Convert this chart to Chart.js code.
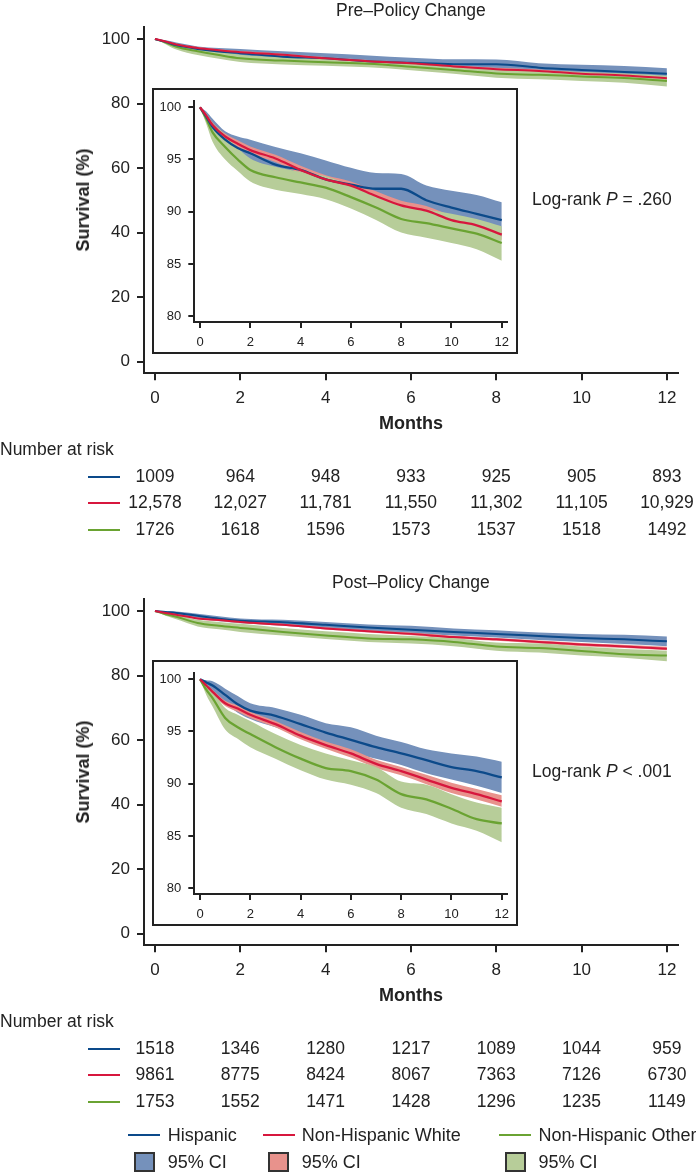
<!DOCTYPE html>
<html>
<head>
<meta charset="utf-8">
<script src="https://cdn.jsdelivr.net/npm/chart.js@4"></script>
<style>
body { margin: 0; background: #fff; }
#page { position: relative; width: 696px; height: 1173px; overflow: hidden; font-family: 'Liberation Sans', Arial, sans-serif; color: #222; }
#page canvas { position: absolute; }
.t { position: absolute; white-space: nowrap; font-size: 17.5px; line-height: 1; }
.seg { position: absolute; height: 2px; }
.sw { position: absolute; width: 17px; height: 16px; border: 2px solid #333; }
</style>
</head>
<body>
<div id="page"></div>
<script>
const months = [0, 0.25, 0.5, 1, 1.5, 2, 3, 4, 5, 6, 7, 8, 9, 10, 11, 12]
const xTicks = [0, 2, 4, 6, 8, 10, 12]
const yTicks = [0, 20, 40, 60, 80, 100]
const insetYTicks = [80, 85, 90, 95, 100]

const groups = ['Hispanic', 'Non-Hispanic White', 'Non-Hispanic Other']

// Pre-policy change
const preHisp   = [100, 99.1, 98.1, 96.9, 96.1, 95.6, 94.5, 94.0, 93.1, 92.6, 92.2, 92.2, 91.1, 90.4, 89.8, 89.2]
const preHispHi = [100, 99.6, 98.9, 97.7, 97.2, 96.9, 96.2, 95.6, 94.9, 94.2, 93.7, 93.6, 92.5, 92.0, 91.6, 90.9]
const preHispLo = [100, 98.6, 97.3, 96.0, 95.1, 94.4, 93.2, 92.6, 91.5, 91.0, 90.8, 90.6, 89.6, 88.9, 88.2, 87.6]
const preWhite   = [100, 99.2, 98.3, 97.2, 96.5, 95.9, 95.1, 94.0, 93.1, 92.5, 91.5, 90.6, 90.1, 89.2, 88.7, 87.8]
const preWhiteHi = [100, 99.35, 98.55, 97.5, 96.85, 96.25, 95.45, 94.4, 93.5, 92.9, 91.95, 91.05, 90.55, 89.65, 89.15, 88.3]
const preWhiteLo = [100, 99.05, 98.05, 96.9, 96.15, 95.55, 94.75, 93.6, 92.7, 92.1, 91.05, 90.15, 89.65, 88.75, 88.25, 87.3]
const preOther   = [100, 98.9, 97.6, 96.2, 95.0, 94.0, 93.3, 92.8, 92.3, 91.4, 90.4, 89.3, 88.9, 88.4, 87.9, 87.0]
const preOtherHi = [100, 99.4, 98.5, 97.4, 96.1, 95.1, 94.3, 93.8, 93.4, 92.5, 91.6, 90.6, 90.2, 89.8, 89.3, 88.6]
const preOtherLo = [100, 98.4, 96.7, 95.0, 93.9, 92.9, 92.1, 91.7, 91.2, 90.3, 89.2, 88.0, 87.5, 87.0, 86.4, 85.3]
const preRiskHisp  = ['1009', '964', '948', '933', '925', '905', '893']
const preRiskWhite = ['12,578', '12,027', '11,781', '11,550', '11,302', '11,105', '10,929']
const preRiskOther = ['1726', '1618', '1596', '1573', '1537', '1518', '1492']

// Post-policy change
const postHisp   = [100, 99.7, 99.4, 98.5, 97.6, 97.0, 96.5, 95.7, 94.9, 94.2, 93.5, 92.9, 92.25, 91.6, 91.2, 90.6]
const postHispHi = [100, 99.9, 99.8, 99.1, 98.4, 97.7, 97.25, 96.6, 95.8, 95.4, 94.6, 94.0, 93.3, 92.9, 92.6, 92.1]
const postHispLo = [100, 99.4, 98.9, 97.7, 96.8, 96.2, 95.4, 94.6, 93.8, 93.0, 92.4, 91.8, 91.0, 90.4, 89.8, 89.1]
const postWhite   = [100, 99.4, 98.8, 97.7, 97.2, 96.6, 95.7, 94.6, 93.7, 92.9, 91.9, 91.2, 90.4, 89.6, 89.0, 88.3]
const postWhiteHi = [100, 99.55, 99.0, 97.95, 97.5, 96.9, 96.0, 94.95, 94.05, 93.3, 92.3, 91.6, 90.85, 90.1, 89.5, 88.9]
const postWhiteLo = [100, 99.25, 98.6, 97.45, 96.9, 96.3, 95.4, 94.25, 93.35, 92.5, 91.5, 90.8, 89.95, 89.1, 88.5, 87.8]
const postOther   = [100, 99.0, 98.2, 96.3, 95.4, 94.75, 93.5, 92.4, 91.5, 91.2, 90.4, 89.0, 88.5, 87.6, 86.6, 86.2]
const postOtherHi = [100, 99.5, 98.9, 97.25, 96.6, 96.0, 94.75, 93.7, 92.9, 92.25, 91.6, 90.2, 89.9, 89.0, 88.2, 87.7]
const postOtherLo = [100, 98.5, 97.4, 95.2, 94.3, 93.5, 92.4, 91.3, 90.4, 89.9, 89.1, 87.7, 87.1, 86.2, 85.5, 84.4]
const postRiskHisp  = ['1518', '1346', '1280', '1217', '1089', '1044', '959']
const postRiskWhite = ['9861', '8775', '8424', '8067', '7363', '7126', '6730']
const postRiskOther = ['1753', '1552', '1471', '1428', '1296', '1235', '1149']

const BLUE = '#0c4a8a', BLUE_CI = '#7591bb'
const RED = '#d7173d', RED_CI = '#e8928c'
const GREEN = '#6aa332', GREEN_CI = '#b7cd99'
const INK = '#222'

Chart.defaults.font.family = "'Liberation Sans', Arial, sans-serif"
Chart.defaults.color = INK

const page = document.getElementById('page')

function addText(html, x, y, align, size, extra) {
    const d = document.createElement('div')
    d.className = 't'
    d.innerHTML = html
    d.style.left = x + 'px'
    d.style.top = y + 'px'
    if (size) d.style.fontSize = size + 'px'
    d.style.transform = align == 'center' ? 'translate(-50%,-50%)' : 'translate(0,-50%)'
    if (extra) Object.assign(d.style, extra)
    page.appendChild(d)
    return d
}

function addSeg(x, y, w, color) {
    const d = document.createElement('div')
    d.className = 'seg'
    d.style.left = x + 'px'
    d.style.top = (y - 1) + 'px'
    d.style.width = w + 'px'
    d.style.background = color
    page.appendChild(d)
}

function buildDatasets(s, lw) {
    const pts = arr => months.map((m, i) => ({ x: m, y: arr[i] }))
    const line = (arr, color) => ({ data: pts(arr), borderColor: color, borderWidth: lw, pointRadius: 0, fill: false, cubicInterpolationMode: 'monotone' })
    const edge = (arr, fill, bg) => ({ data: pts(arr), borderColor: 'transparent', borderWidth: 1, pointRadius: 0, fill: fill, backgroundColor: bg || 'transparent', cubicInterpolationMode: 'monotone' })
    // first dataset is drawn on top
    return [
        line(s.white, RED), line(s.hisp, BLUE), line(s.other, GREEN),
        edge(s.otherHi, '+1', GREEN_CI), edge(s.otherLo, false),
        edge(s.whiteHi, '+1', RED_CI), edge(s.whiteLo, false),
        edge(s.hispHi, '+1', BLUE_CI), edge(s.hispLo, false)
    ]
}

function axis(min, max, ticks, fit, tl, pad, size) {
    return {
        type: 'linear', min: min, max: max,
        afterBuildTicks: sc => { sc.ticks = ticks.map(v => ({ value: v })) },
        afterFit: fit,
        grid: { drawOnChartArea: false, tickLength: tl, lineWidth: 2, color: INK },
        border: { display: true, width: 2, color: INK },
        ticks: { padding: pad, color: INK, font: { size: size } }
    }
}

const boxPlugin = {
    id: 'insetBox',
    beforeDraw(c) {
        const ctx = c.ctx
        ctx.save()
        ctx.fillStyle = '#fff'
        ctx.fillRect(3, 3, 364, 264)
        ctx.lineWidth = 2
        ctx.strokeStyle = INK
        ctx.strokeRect(3, 3, 364, 264)
        ctx.restore()
    }
}

function makePanel(top, h, title, pText, s, risk) {
    const cv = document.createElement('canvas')
    cv.width = 696; cv.height = h
    cv.style.left = '0px'; cv.style.top = top + 'px'
    page.appendChild(cv)
    const main = new Chart(cv, {
        type: 'line',
        data: { datasets: buildDatasets(s, 2) },
        options: {
            responsive: false, animation: false, devicePixelRatio: 1,
            layout: { padding: { left: 0, right: 18, top: 26.7, bottom: 0 } },
            plugins: { legend: { display: false }, tooltip: { enabled: false } },
            scales: {
                x: axis(-0.257, 12.26, xTicks, sc => { sc.height = h - 373.3 }, 7, 8, 17),
                y: axis(-3.6, 103.8, yTicks, sc => { sc.width = 144 }, 7, 7, 17)
            }
        }
    })

    const iv = document.createElement('canvas')
    iv.width = 370; iv.height = 270
    iv.style.left = '150px'; iv.style.top = (top + 86) + 'px'
    page.appendChild(iv)
    new Chart(iv, {
        type: 'line',
        data: { datasets: buildDatasets(s, 2.3) },
        options: {
            responsive: false, animation: false, devicePixelRatio: 1,
            layout: { padding: { left: 0, right: 12.7, top: 10.7, bottom: 0 } },
            plugins: { legend: { display: false }, tooltip: { enabled: false } },
            scales: {
                x: axis(-0.227, 12.22, xTicks, sc => { sc.height = 34 }, 6, 7, 13),
                y: axis(79.44, 100.62, insetYTicks, sc => { sc.width = 44.3 }, 6, 7, 13)
            }
        },
        plugins: [boxPlugin]
    })

    const xs = xTicks.map(v => main.scales.x.getPixelForValue(v))
    addText(title, xs[3], top + 11, 'center')
    addText('Months', xs[3], top + 423, 'center', 18, { fontWeight: 'bold' })
    addText('Survival (%)', 83, top + 200, 'center', 18, { fontWeight: 'bold', transform: 'translate(-50%,-50%) rotate(-90deg)' })
    addText(pText, 532, top + 200, 'left')
    addText('Number at risk', 0, top + 450, 'left')
    const colors = [BLUE, RED, GREEN]
    risk.forEach((row, r) => {
        const y = top + 476.7 + r * 26.6
        addSeg(88, y, 32, colors[r])
        row.forEach((v, i) => addText(v, xs[i], y, 'center'))
    })
}

makePanel(0, 572, 'Pre–Policy Change', 'Log-rank <i>P</i> = .260',
    { hisp: preHisp, hispHi: preHispHi, hispLo: preHispLo, white: preWhite, whiteHi: preWhiteHi, whiteLo: preWhiteLo, other: preOther, otherHi: preOtherHi, otherLo: preOtherLo },
    [preRiskHisp, preRiskWhite, preRiskOther])

makePanel(572, 601, 'Post–Policy Change', 'Log-rank <i>P</i> &lt; .001',
    { hisp: postHisp, hispHi: postHispHi, hispLo: postHispLo, white: postWhite, whiteHi: postWhiteHi, whiteLo: postWhiteLo, other: postOther, otherHi: postOtherHi, otherLo: postOtherLo },
    [postRiskHisp, postRiskWhite, postRiskOther])

// legend
const legX = [[128, 167.7, 134], [263, 301.7, 268], [499, 538.5, 505]]
const legLine = [BLUE, RED, GREEN]
const legFill = [BLUE_CI, RED_CI, GREEN_CI]
groups.forEach((g, i) => {
    addSeg(legX[i][0], 1135, 32, legLine[i])
    addText(g, legX[i][1], 1135, 'left', 18)
    const b = document.createElement('div')
    b.className = 'sw'
    b.style.left = legX[i][2] + 'px'
    b.style.top = '1152px'
    b.style.background = legFill[i]
    page.appendChild(b)
    addText('95% CI', legX[i][1], 1162, 'left', 18)
})
</script>
</body>
</html>
